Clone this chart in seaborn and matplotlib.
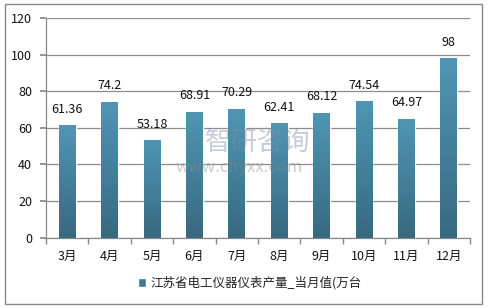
import matplotlib
matplotlib.use("Agg")
import matplotlib.pyplot as plt
import seaborn as sns
import numpy as np
import pandas as pd
from matplotlib.patches import Rectangle
from matplotlib.colors import LinearSegmentedColormap

months = ["3月", "4月", "5月", "6月", "7月", "8月", "9月", "10月", "11月", "12月"]
values = [61.36, 74.2, 53.18, 68.91, 70.29, 62.41, 68.12, 74.54, 64.97, 98]
value_labels = ["61.36", "74.2", "53.18", "68.91", "70.29", "62.41", "68.12", "74.54", "64.97", "98"]
series_name = "江苏省电工仪器仪表产量_当月值(万台"
y_ticks = [0, 20, 40, 60, 80, 100, 120]

sns.set_theme(style="white")
plt.rcParams['font.family'] = ['Noto Sans CJK SC', 'DejaVu Sans']

fig = plt.figure(figsize=(4.89, 3.08), dpi=100)
ax = fig.add_axes([46/489, 70.3/308, (470-46)/489, (237.7-18)/308])

df = pd.DataFrame({"month": months, "value": values})
sns.barplot(data=df, x="month", y="value", ax=ax, color="#4a8aa6", width=0.4,
            saturation=1, zorder=3)

cmap = LinearSegmentedColormap.from_list("g", ["#386980", "#4f96b4"])
grad = np.linspace(0, 1, 256).reshape(-1, 1)
for p in ax.patches:
    x0, y0 = p.get_x(), p.get_y()
    w, h = p.get_width(), p.get_height()
    im = ax.imshow(grad, extent=[x0, x0 + w, y0, y0 + h], origin="lower",
                   cmap=cmap, aspect="auto", zorder=4)
    im.set_clip_path(p)

for i, (v, lab) in enumerate(zip(values, value_labels)):
    ax.annotate(lab, (i, v), xytext=(0, 7), textcoords="offset points",
                ha="center", va="bottom", fontsize=9, color="#111111")

ax.set_xlim(-0.5, len(months) - 0.5)
ax.set_ylim(0, 120)
ax.set_yticks(y_ticks)
ax.set_yticklabels([str(t) for t in y_ticks], fontsize=9, color="#111111")
ax.set_xticks(range(len(months)))
ax.set_xticklabels(months, fontsize=9, color="#111111")
ax.set_xticks(np.arange(-0.5, len(months), 1), minor=True)
ax.tick_params(axis="x", which="major", length=0, pad=9)
ax.tick_params(axis="x", which="minor", length=4, color="#888888", direction="out", bottom=True)
ax.tick_params(axis="y", length=4, color="#888888", direction="out", left=True, pad=6)
ax.set_xlabel("")
ax.set_ylabel("")
ax.grid(axis="y", color="#8c8c8c", linewidth=0.9, zorder=0)
ax.set_axisbelow(True)
for s in ["top", "right"]:
    ax.spines[s].set_visible(False)
for s in ["left", "bottom"]:
    ax.spines[s].set_color("#888888")
    ax.spines[s].set_linewidth(0.9)

# watermark
fig.text(205/489, 1 - 142/308, "智研咨询", fontsize=19, color="#7f8fa6", alpha=0.45,
         ha="left", va="center", zorder=10)
fig.text(176/489, 1 - 168/308, "www.chyxx.com", fontsize=12, color="#8a8a8a", alpha=0.45,
         ha="left", va="center", zorder=10)

h = [Rectangle((0, 0), 1, 1, facecolor="#3f7a94")]
fig.legend(h, [series_name], loc="center", bbox_to_anchor=(0.51, 0.081), frameon=False,
           fontsize=9, handlelength=0.7, handleheight=0.7, handletextpad=0.3)

fig.patches.append(Rectangle((5/489, 4/308), 477/489, 300/308, transform=fig.transFigure,
                             fill=False, edgecolor="#888888", linewidth=1))

fig.savefig("out.png", dpi=100)
